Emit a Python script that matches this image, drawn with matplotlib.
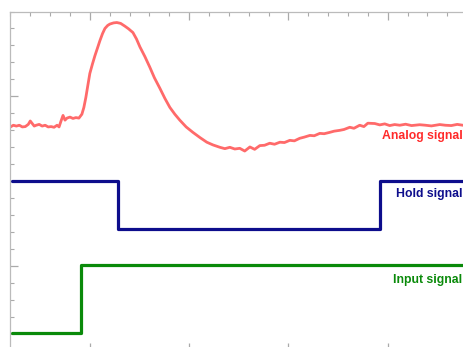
import matplotlib
matplotlib.use("Agg")
import matplotlib.pyplot as plt
from matplotlib.ticker import MultipleLocator, NullFormatter

# ---- data (x in minor-tick units of time, y in minor-tick units of level) ----
input_x = [0.1, 3.54, 3.54, 24.0]
input_y = [1.05, 1.05, 5.05, 5.05]

hold_x = [0.1, 5.43, 5.43, 18.6, 18.6, 24.0]
hold_y = [10.0, 10.0, 7.18, 7.18, 10.0, 10.0]

analog_x = [0.0, 0.15, 0.3, 0.45, 0.6, 0.75, 0.9, 1.0, 1.1, 1.2, 1.3, 1.45, 1.6, 1.75,
            1.9, 2.05, 2.2, 2.35, 2.45, 2.55, 2.65, 2.75, 2.85, 3.0, 3.15, 3.3, 3.45,
            3.6, 3.7, 3.8, 3.9, 4.0, 4.13, 4.26, 4.4, 4.51, 4.64, 4.76, 4.9, 5.01,
            5.2, 5.36, 5.55, 5.76, 5.95, 6.17, 6.35, 6.52, 6.77, 7.02, 7.25, 7.53,
            7.78, 8.03, 8.28, 8.53, 8.85, 9.19, 9.55, 9.89, 10.2, 10.55, 10.8, 11.05,
            11.3, 11.55, 11.8, 12.06, 12.3, 12.56, 12.8, 13.06, 13.3, 13.57, 13.8,
            14.07, 14.3, 14.57, 14.8, 15.08, 15.3, 15.58, 15.8, 16.08, 16.3, 16.59,
            16.8, 17.09, 17.3, 17.59, 17.8, 18.0, 18.35, 18.6, 18.85, 19.1, 19.35,
            19.61, 19.9, 20.2, 20.61, 20.9, 21.2, 21.62, 21.9, 22.2, 22.5, 22.78,
            23.2, 24.0]
analog_y = [13.2, 13.3, 13.25, 13.3, 13.2, 13.22, 13.35, 13.55, 13.4, 13.25, 13.3,
            13.35, 13.25, 13.3, 13.2, 13.22, 13.18, 13.3, 13.2, 13.55, 13.88, 13.6,
            13.72, 13.78, 13.7, 13.75, 13.72, 13.95, 14.35, 14.94, 15.65, 16.35,
            16.9, 17.41, 17.9, 18.29, 18.7, 19.0, 19.18, 19.26, 19.33, 19.35, 19.3,
            19.14, 18.98, 18.76, 18.38, 17.92, 17.35, 16.72, 16.1, 15.47, 14.88,
            14.35, 13.95, 13.6, 13.2, 12.88, 12.57, 12.3, 12.14, 12.0, 11.92, 12.0,
            11.9, 11.94, 11.78, 12.02, 11.88, 12.1, 12.12, 12.24, 12.18, 12.3, 12.28,
            12.41, 12.38, 12.53, 12.6, 12.7, 12.68, 12.82, 12.8, 12.88, 12.95, 13.0,
            13.05, 13.18, 13.12, 13.3, 13.22, 13.42, 13.4, 13.32, 13.38, 13.28,
            13.34, 13.3, 13.36, 13.28, 13.33, 13.3, 13.26, 13.34, 13.3, 13.28, 13.35,
            13.3, 13.3, 13.3]

labels = ["Analog signal", "Hold signal", "Input signal"]
colors = ["#ff2a2a", "#0d0d8c", "#0a8a0a"]

# ---- figure ----
fig = plt.figure(figsize=(4.63, 3.47), dpi=100)
ax = fig.add_axes([10.4 / 463, -4 / 347, 476.6 / 463, 339.5 / 347])
ax.set_xlim(0, 24)
ax.set_ylim(0, 20)

ax.plot(analog_x, analog_y, color="#ff5050", lw=2.0, alpha=0.85,
        solid_joinstyle="round")
ax.plot(hold_x, hold_y, color=colors[1], lw=2.3, solid_joinstyle="round",
        solid_capstyle="round")
ax.plot(input_x, input_y, color=colors[2], lw=2.3, solid_joinstyle="round",
        solid_capstyle="round")

for s in ["left", "top", "bottom", "right"]:
    ax.spines[s].set_color("#bbbbbb")
    ax.spines[s].set_linewidth(0.9)

ax.xaxis.set_major_locator(MultipleLocator(5, offset=4))
ax.xaxis.set_minor_locator(MultipleLocator(1))
ax.yaxis.set_major_locator(MultipleLocator(10, offset=5))
ax.yaxis.set_minor_locator(MultipleLocator(1))
for a in (ax.xaxis, ax.yaxis):
    a.set_major_formatter(NullFormatter())
    a.set_minor_formatter(NullFormatter())
ax.tick_params(which="both", direction="in", colors="#aaaaaa",
               top=True, bottom=True, left=True, right=False)
ax.tick_params(which="major", length=5.5, width=0.9)
ax.tick_params(which="minor", length=2.8, width=0.8)

baselines = [139.3, 197.0, 283.3]
for lab, col, b in zip(labels, colors, baselines):
    fig.text(462.5 / 463, 1 - b / 347, lab, ha="right", va="baseline",
             color=col, fontsize=8.8, fontweight="bold",
             family=["Liberation Sans", "DejaVu Sans"])

fig.savefig("out.png", dpi=100)
